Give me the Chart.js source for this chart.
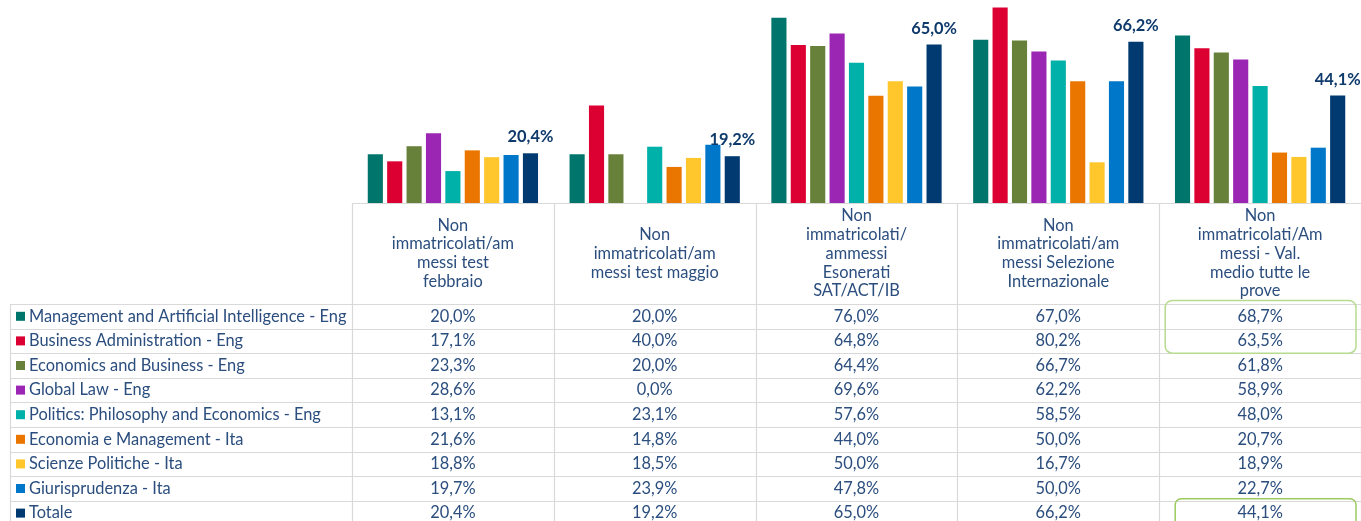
<!DOCTYPE html>
<html>
<head>
<meta charset="utf-8">
<script src="https://cdn.jsdelivr.net/npm/chart.js@4.4.1/dist/chart.umd.min.js"></script>
<style>
  html, body { margin: 0; padding: 0; background: #fff; }
  #wrap { width: 1361px; height: 521px; position: relative; }
</style>
</head>
<body>
<div id="wrap"><canvas id="myChart"></canvas></div>
<script>
'use strict'

// column headers (one entry per line)
const categories = [
	['Non', 'immatricolati/am', 'messi test', 'febbraio'],
	['Non', 'immatricolati/am', 'messi test maggio'],
	['Non', 'immatricolati/', 'ammessi', 'Esonerati', 'SAT/ACT/IB'],
	['Non', 'immatricolati/am', 'messi Selezione', 'Internazionale'],
	['Non', 'immatricolati/Am', 'messi - Val.', 'medio tutte le', 'prove']
]

const mgmtAI     = [20.0, 20.0, 76.0, 67.0, 68.7]
const businessAd = [17.1, 40.0, 64.8, 80.2, 63.5]
const econBus    = [23.3, 20.0, 64.4, 66.7, 61.8]
const globalLaw  = [28.6, 0.0, 69.6, 62.2, 58.9]
const ppe        = [13.1, 23.1, 57.6, 58.5, 48.0]
const econMgmt   = [21.6, 14.8, 44.0, 50.0, 20.7]
const sciPol     = [18.8, 18.5, 50.0, 16.7, 18.9]
const giuris     = [19.7, 23.9, 47.8, 50.0, 22.7]
const totale     = [20.4, 19.2, 65.0, 66.2, 44.1]

const series = [
	{ label: 'Management and Artificial Intelligence - Eng', data: mgmtAI, color: '#00756C' },
	{ label: 'Business Administration - Eng', data: businessAd, color: '#DC0032' },
	{ label: 'Economics and Business - Eng', data: econBus, color: '#68813A' },
	{ label: 'Global Law - Eng', data: globalLaw, color: '#9C26B4' },
	{ label: 'Politics: Philosophy and Economics - Eng', data: ppe, color: '#00B1A9' },
	{ label: 'Economia e Management - Ita', data: econMgmt, color: '#EA7600' },
	{ label: 'Scienze Politiche - Ita', data: sciPol, color: '#FFC72C' },
	{ label: 'Giurisprudenza - Ita', data: giuris, color: '#0077C8' },
	{ label: 'Totale', data: totale, color: '#003A70' }
]

const FONT = 'Lato, "Open Sans", sans-serif'
const TEXT = '#2B4E7E'
const GRID = '#D9D9D9'
const HEADER_H = 101
const ROW_H = 24.6
const TABLE_LEFT = 10

function fmt(v) {
	return v.toFixed(1).replace('.', ',') + '%'
}

// data table under the plot, aligned on the x scale
const dataTable = {
	id: 'dataTable',
	afterDraw(chart) {
		const ctx = chart.ctx
		const area = chart.chartArea
		const x = chart.scales.x
		const n = chart.data.labels.length
		const colW = (area.right - area.left) / n
		const top = area.bottom
		const rowsTop = top + HEADER_H
		const sets = chart.data.datasets

		ctx.save()
		ctx.strokeStyle = GRID
		ctx.lineWidth = 1.2

		// horizontal lines
		ctx.beginPath()
		ctx.moveTo(area.left, top + 0.5)
		ctx.lineTo(area.right, top + 0.5)
		for (let r = 0; r <= sets.length; r++) {
			const y = Math.round(rowsTop + r * ROW_H) + 0.5
			ctx.moveTo(TABLE_LEFT, y)
			ctx.lineTo(area.right, y)
		}
		// vertical lines
		ctx.moveTo(TABLE_LEFT + 0.5, rowsTop)
		ctx.lineTo(TABLE_LEFT + 0.5, chart.height)
		for (let c = 0; c <= n; c++) {
			const xx = Math.round(area.left + c * colW) + 0.5
			ctx.moveTo(xx, top)
			ctx.lineTo(xx, chart.height)
		}
		ctx.stroke()

		// column headers
		ctx.fillStyle = TEXT
		ctx.font = '16.4px ' + FONT
		ctx.textAlign = 'center'
		ctx.textBaseline = 'middle'
		const lineH = 18.8
		chart.data.labels.forEach((lines, i) => {
			const cx = x.getPixelForValue(i)
			const y0 = top + HEADER_H / 2 - (lines.length - 1) * lineH / 2
			lines.forEach((t, k) => ctx.fillText(t, cx, y0 + k * lineH))
		})

		// legend keys + values
		sets.forEach((ds, r) => {
			const cy = rowsTop + r * ROW_H + ROW_H / 2
			ctx.fillStyle = ds.backgroundColor
			ctx.fillRect(16, cy - 4.5, 9, 9)
			ctx.fillStyle = TEXT
			ctx.textAlign = 'left'
			ctx.fillText(ds.label, 29, cy)
			ctx.textAlign = 'center'
			ds.data.forEach((v, i) => {
				ctx.fillText(fmt(v), x.getPixelForValue(i), cy)
			})
		})

		// highlight boxes in the last column
		const last = n - 1
		const lx = x.getPixelForValue(last)
		ctx.lineWidth = 1.5
		ctx.strokeStyle = '#B5DB8F'
		ctx.beginPath()
		ctx.roundRect(lx - colW / 2 + 6, rowsTop - 3.5, colW - 11, ROW_H * 2 + 3.5, 7)
		ctx.stroke()
		ctx.strokeStyle = '#9CCB5F'
		ctx.beginPath()
		ctx.roundRect(lx - colW / 2 + 16, rowsTop + ROW_H * 8 - 2, colW - 21, ROW_H + 8, 6)
		ctx.stroke()
		ctx.restore()
	}
}

// value labels above the Totale bars
const totalLabels = {
	id: 'totalLabels',
	afterDatasetsDraw(chart) {
		const ctx = chart.ctx
		const idx = chart.data.datasets.length - 1
		const meta = chart.getDatasetMeta(idx)
		ctx.save()
		ctx.fillStyle = '#0E3A6C'
		ctx.font = 'bold 16.4px ' + FONT
		ctx.textAlign = 'center'
		ctx.textBaseline = 'bottom'
		meta.data.forEach((bar, i) => {
			ctx.fillText(fmt(chart.data.datasets[idx].data[i]), bar.x, bar.y - 8)
		})
		ctx.restore()
	}
}

new Chart(document.querySelector('#myChart'), {
	type: 'bar',
	data: {
		labels: categories,
		datasets: series.map(s => ({
			label: s.label,
			data: s.data,
			backgroundColor: s.color,
			borderWidth: 0,
			categoryPercentage: 0.865,
			barPercentage: 0.78
		}))
	},
	options: {
		responsive: true,
		maintainAspectRatio: false,
		animation: false,
		layout: { padding: { left: 352, right: 0, top: 0, bottom: 318 } },
		plugins: { legend: { display: false }, tooltip: { enabled: false } },
		scales: {
			x: { display: false },
			y: { display: false, min: 0, max: 83.3 }
		}
	},
	plugins: [dataTable, totalLabels]
})
</script>
</body>
</html>
